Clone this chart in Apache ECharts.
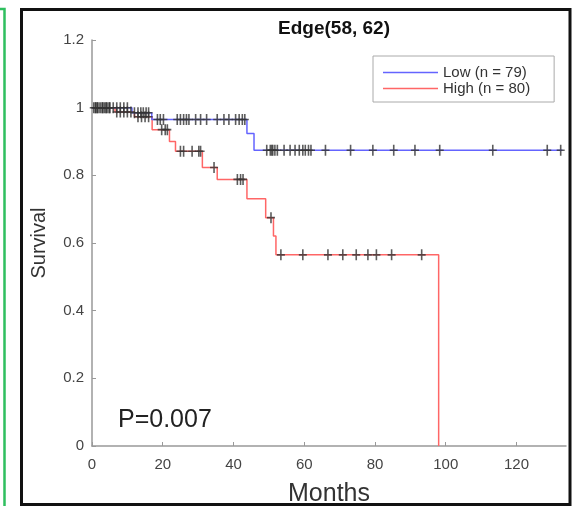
<!DOCTYPE html>
<html>
<head>
<meta charset="utf-8">
<title>Edge(58, 62)</title>
<script src="https://cdn.jsdelivr.net/npm/echarts@6/dist/echarts.min.js"></script>
<style>
  html, body { margin: 0; padding: 0; background: #fff; }
  #chart { width: 577px; height: 506px; }
</style>
</head>
<body>
<div id="chart"></div>
<script>
// Kaplan-Meier steps: event time (months) and survival right after it
const lowTimes = [0, 11.3, 16.9, 43.8, 45.8, 133]
const lowSurv = [1, 0.985, 0.965, 0.924, 0.874, 0.874]
const highTimes = [0, 6.5, 12, 17, 21.9, 23.6, 31.2, 35.4, 43.8, 49.1, 51.3, 52, 98]
const highSurv = [1, 0.987, 0.973, 0.935, 0.9, 0.871, 0.823, 0.788, 0.731, 0.675, 0.621, 0.565, 0]

// censored patients (months)
const lowCensor = [
  1, 1.5, 2, 3, 3.5, 4, 4.5, 5, 6, 7, 8, 9, 10,
  12, 13, 13.8, 14.5, 15.3, 16,
  18.5, 19.3, 20.2, 24.1, 25, 25.9, 26.7, 27.4, 29.3, 30.7, 32.4, 35.4, 37.3, 38.7, 40.6, 41.6, 42.5, 43.2,
  49.4, 50.4, 50.8, 51.1, 51.7, 52.4, 54.3, 56, 57.4, 58.6, 59.6, 60.3, 61.2, 61.9, 66, 73.1, 79.4, 85.3, 91.3, 98.3, 113.3, 128.7, 132.5,
]
const highCensor = [
  0.5, 1, 1.5, 2.5, 3, 4, 5, 7, 8, 9, 10, 11, 13, 14, 15, 16,
  19.7, 20.7, 21.3, 25, 25.9, 28.3, 30.2, 30.7, 34.5, 41.1, 42, 42.7, 50.6,
  53.4, 59.6, 66.7, 70.9, 74.7, 78, 80.4, 84.7, 93.2,
]

const xTicks = [0, 20, 40, 60, 80, 100, 120]
const seriesNames = ['Low (n = 79)', 'High (n = 80)']
const pValue = 'P=0.007'

// survival value of a step curve at time t
const stepValue = (times, surv, t) => {
  let v = surv[0]
  for (let i = 0; i < times.length; i++) {
    if (times[i] <= t) v = surv[i]
  }
  return v
}

const font = '"Liberation Sans", Arial, sans-serif'
const plusIcon = 'path://M4,0h2v14h-2zM0,6h10v2h-10z'
const lineIcon = 'path://M0,0h55v1.5h-55z'

const myChart = echarts.init(document.getElementById('chart'))

const option = {
  backgroundColor: '#fff',
  animation: false,
  textStyle: { fontFamily: font },
  title: {
    text: 'Edge(58, 62)',
    left: 329,
    textAlign: 'center',
    top: 14,
    textStyle: { fontSize: 19, fontWeight: 'bold', color: '#111', fontFamily: font },
  },
  legend: {
    orient: 'vertical',
    left: 373,
    top: 56,
    data: seriesNames,
    icon: lineIcon,
    itemWidth: 55,
    itemHeight: 14,
    itemGap: 1,
    padding: [9, 24, 6, 10],
    borderColor: '#aaa',
    borderWidth: 1,
    textStyle: { fontSize: 15, color: '#333', fontFamily: font },
  },
  // keep the plot box fixed, labels and names may sit outside it
  grid: { left: 92, right: 11, top: 40, bottom: 60, outerBoundsMode: 'none' },
  xAxis: {
    type: 'value',
    min: 0,
    max: 134,
    name: 'Months',
    nameLocation: 'middle',
    nameGap: 36,
    nameTextStyle: { fontSize: 25, color: '#333', fontFamily: font },
    axisLine: { lineStyle: { color: '#999', width: 1.5 } },
    axisTick: { inside: true, length: 4, customValues: xTicks, lineStyle: { color: '#999' } },
    axisLabel: { customValues: xTicks, fontSize: 15, color: '#444', margin: 11, fontFamily: font },
    splitLine: { show: false },
  },
  yAxis: {
    type: 'value',
    min: 0,
    max: 1.2,
    interval: 0.2,
    name: 'Survival',
    nameLocation: 'middle',
    nameGap: 43,
    nameTextStyle: { fontSize: 20, color: '#333', fontFamily: font },
    axisLine: { show: true, lineStyle: { color: '#999', width: 1.5 } },
    axisTick: { show: true, inside: true, length: 4, lineStyle: { color: '#999' } },
    axisLabel: { fontSize: 15, color: '#444', margin: 8, fontFamily: font },
    splitLine: { show: false },
  },
  series: [
    {
      name: seriesNames[0],
      type: 'line',
      step: 'end',
      symbol: 'none',
      data: lowTimes.map((t, i) => [t, lowSurv[i]]),
      lineStyle: { color: '#6464ff', width: 1.5 },
      itemStyle: { color: '#6464ff' },
      z: 3,
    },
    {
      name: seriesNames[1],
      type: 'line',
      step: 'end',
      symbol: 'none',
      data: highTimes.map((t, i) => [t, highSurv[i]]),
      lineStyle: { color: '#ff6666', width: 1.5 },
      itemStyle: { color: '#ff6666' },
      z: 2,
    },
    {
      name: 'low-censor',
      type: 'scatter',
      symbol: plusIcon,
      symbolSize: [8, 11],
      data: lowCensor.map((t) => [t, stepValue(lowTimes, lowSurv, t)]),
      itemStyle: { color: '#333' },
      z: 4,
    },
    {
      name: 'high-censor',
      type: 'scatter',
      symbol: plusIcon,
      symbolSize: [8, 11],
      data: highCensor.map((t) => [t, stepValue(highTimes, highSurv, t)]),
      itemStyle: { color: '#333' },
      z: 4,
    },
  ],
  graphic: [
    // black outer frame
    {
      type: 'rect',
      shape: { x: 21.5, y: 9.5, width: 548.5, height: 495 },
      style: { fill: 'none', stroke: '#111', lineWidth: 3 },
      silent: true,
    },
    // green edge of the neighbouring panel
    {
      type: 'rect',
      shape: { x: -11, y: 9, width: 15.5, height: 520 },
      style: { fill: 'none', stroke: '#2fbf5f', lineWidth: 2.5 },
      silent: true,
    },
    {
      type: 'text',
      left: 118,
      top: 408,
      style: { text: pValue, fontSize: 25, fill: '#222', fontFamily: font },
    },
  ],
}

myChart.setOption(option)
</script>
</body>
</html>
